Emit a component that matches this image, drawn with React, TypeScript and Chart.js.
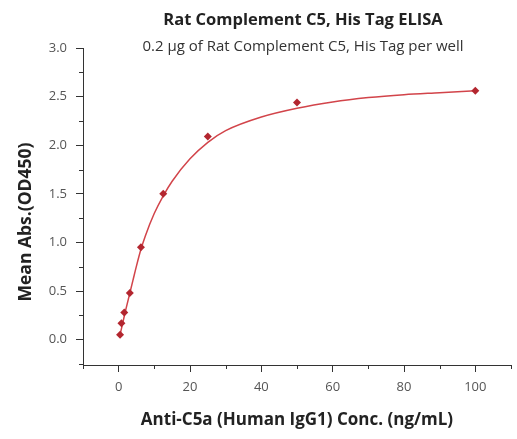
import { useEffect, useRef } from "react";
import { Chart, registerables } from "chart.js";
Chart.register(...registerables);

const titleText = "Rat Complement C5, His Tag ELISA";
const subtitleText = "0.2 μg of Rat Complement C5, His Tag per well";
const xTitle = "Anti-C5a (Human IgG1) Conc. (ng/mL)";
const yTitle = "Mean Abs.(OD450)";

const concentrations = [0.39, 0.78, 1.56, 3.125, 6.25, 12.5, 25, 50, 100];
const absorbance = [0.05, 0.17, 0.28, 0.48, 0.95, 1.5, 2.09, 2.44, 2.56];

const curveX = [0.39, 1, 2, 3, 4, 5, 6.25, 7.5, 10, 12.5, 15, 20, 25, 30, 40, 50, 60, 70, 80, 90, 100];
const curveY = [0.05, 0.15, 0.31, 0.46, 0.61, 0.76, 0.93, 1.07, 1.3, 1.48, 1.63, 1.86, 2.03, 2.15, 2.29, 2.38, 2.445, 2.49, 2.52, 2.54, 2.56];

const xTicks = [0, 20, 40, 60, 80, 100];
const yTicks = [0, 0.5, 1.0, 1.5, 2.0, 2.5, 3.0];
const xMinorTicks = [-10, 10, 30, 50, 70, 90, 110];
const yMinorTicks = [-0.25, 0.25, 0.75, 1.25, 1.75, 2.25, 2.75];

const FONT = "'Open Sans', 'DejaVu Sans', sans-serif";
const AXIS_COLOR = "#333333";

const minorTicksPlugin = {
  id: "minorTicks",
  afterDraw(chart: any) {
    const ctx = chart.ctx;
    const xs = chart.scales.x;
    const ys = chart.scales.y;
    const area = chart.chartArea;
    ctx.save();
    ctx.strokeStyle = AXIS_COLOR;
    ctx.lineWidth = 1;
    ctx.beginPath();
    xMinorTicks.forEach((v) => {
      const px = Math.round(xs.getPixelForValue(v)) + 0.5;
      ctx.moveTo(px, area.bottom);
      ctx.lineTo(px, area.bottom + 4);
    });
    yMinorTicks.forEach((v) => {
      const py = Math.round(ys.getPixelForValue(v)) + 0.5;
      ctx.moveTo(area.left, py);
      ctx.lineTo(area.left - 4, py);
    });
    ctx.stroke();
    ctx.restore();
  },
};

const titlesPlugin = {
  id: "titles",
  afterDraw(chart: any) {
    const ctx = chart.ctx;
    const cx = 303;
    ctx.save();
    ctx.textAlign = "center";
    ctx.textBaseline = "middle";
    ctx.fillStyle = "#222222";
    ctx.font = `bold 16.5px ${FONT}`;
    ctx.fillText(titleText, cx, 20);
    ctx.fillStyle = "#333333";
    ctx.font = `15px ${FONT}`;
    ctx.fillText(subtitleText, cx, 47);
    // y-axis title
    ctx.save();
    ctx.translate(26, 222);
    ctx.rotate(-Math.PI / 2);
    ctx.fillStyle = "#222222";
    ctx.font = `bold 17.5px ${FONT}`;
    ctx.fillText(yTitle, 0, 0);
    ctx.restore();
    ctx.restore();
  },
};

export default function App() {
  const canvasRef = useRef<HTMLCanvasElement | null>(null);

  useEffect(() => {
    if (!canvasRef.current) return;
    const chart = new Chart(canvasRef.current, {
      type: "scatter",
      data: {
        datasets: [
          {
            type: "line",
            label: "Fit",
            data: curveX.map((x, i) => ({ x, y: curveY[i] })),
            borderColor: "#d2444a",
            borderWidth: 1.5,
            pointRadius: 0,
            fill: false,
            cubicInterpolationMode: "monotone",
            order: 2,
          } as any,
          {
            type: "scatter",
            label: "Data",
            data: concentrations.map((x, i) => ({ x, y: absorbance[i] })),
            pointStyle: "rectRot",
            pointRadius: 4,
            backgroundColor: "#b3262f",
            borderColor: "#b3262f",
            borderWidth: 0,
            order: 1,
          },
        ],
      },
      options: {
        animation: false,
        responsive: false,
        maintainAspectRatio: false,
        layout: { padding: { top: 48, right: 6, left: 0, bottom: 0 } },
        plugins: {
          legend: { display: false },
          tooltip: { enabled: false },
          title: { display: false },
        },
        scales: {
          x: {
            type: "linear",
            min: -10,
            max: 110,
            afterBuildTicks: (scale: any) => {
              scale.ticks = xTicks.map((v) => ({ value: v }));
            },
            afterFit: (scale: any) => {
              scale.height = 74;
            },
            grid: {
              display: true,
              drawOnChartArea: false,
              drawTicks: true,
              tickLength: 7,
              color: AXIS_COLOR,
            },
            border: { display: true, color: AXIS_COLOR, width: 1 },
            ticks: {
              padding: 7,
              color: "#555555",
              font: { family: FONT, size: 13 },
              maxRotation: 0,
            },
            title: {
              display: true,
              text: xTitle,
              color: "#222222",
              font: { family: FONT, size: 17, weight: "bold" },
              padding: { top: 0, bottom: 9 },
            },
          },
          y: {
            type: "linear",
            min: -0.26,
            max: 3.0,
            afterBuildTicks: (scale: any) => {
              scale.ticks = yTicks.map((v) => ({ value: v }));
            },
            afterFit: (scale: any) => {
              scale.width = 83;
            },
            grid: {
              display: true,
              drawOnChartArea: false,
              drawTicks: true,
              tickLength: 7,
              color: AXIS_COLOR,
            },
            border: { display: true, color: AXIS_COLOR, width: 1 },
            ticks: {
              padding: 9,
              color: "#555555",
              font: { family: FONT, size: 13 },
              callback: (v: any) => Number(v).toFixed(1),
            },
            title: { display: false },
          },
        },
      },
      plugins: [minorTicksPlugin, titlesPlugin],
    });
    return () => chart.destroy();
  }, []);

  return (
    <div style={{ position: "fixed", left: 0, top: 0, width: 517, height: 439, background: "#ffffff" }}>
      <canvas ref={canvasRef} width={517} height={439} style={{ width: 517, height: 439 }} />
    </div>
  );
}
